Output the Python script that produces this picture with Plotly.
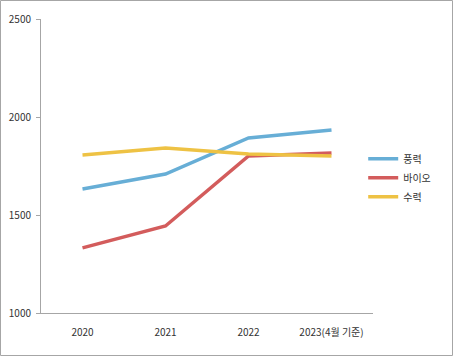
import plotly.graph_objects as go

categories = ["2020", "2021", "2022", "2023(4월 기준)"]
wind = [1633, 1709, 1893, 1934]
bio = [1332, 1444, 1801, 1816]
hydro = [1806, 1842, 1811, 1801]
y_ticks = [1000, 1500, 2000, 2500]

series = [("풍력", wind, "#67AED6"), ("바이오", bio, "#D35C5C"), ("수력", hydro, "#EEC244")]

fig = go.Figure()
for name, vals, color in series:
    fig.add_trace(go.Scatter(x=categories, y=vals, name=name, mode="lines",
                             line=dict(color=color, width=3.5)))

W, H = 454, 357
ml, mr, mt, mb = 41, 81, 19, 44
pw, ph = W - ml - mr, H - mt - mb

fig.update_layout(
    width=W, height=H, autosize=False,
    margin=dict(l=ml, r=mr, t=mt, b=mb, autoexpand=False),
    paper_bgcolor="white", plot_bgcolor="white",
    font=dict(family="Noto Sans CJK KR, Noto Sans, sans-serif", size=10, color="#333333"),
    showlegend=True,
    legend=dict(xref="container", x=0.80, y=0.46, yanchor="middle", xanchor="left",
                font=dict(size=10, color="#333333"), itemwidth=30,
                tracegroupgap=0, bgcolor="rgba(0,0,0,0)"),
    xaxis=dict(type="category", range=[-0.5, 3.5], showline=True, linecolor="#A6A6A6",
               linewidth=1, showgrid=False, ticks="", ticklabelstandoff=10, zeroline=False),
    yaxis=dict(range=[1000, 2500], tickvals=y_ticks, showline=True, linecolor="#A6A6A6",
               linewidth=1, showgrid=False, ticks="outside", ticklen=4, tickcolor="#A6A6A6",
               ticklabelstandoff=3, zeroline=False),
)

fig.add_shape(type="rect", xref="paper", yref="paper",
              x0=-(ml - 0.5) / pw, x1=1 + (mr - 1.5) / pw,
              y0=-(mb - 1.5) / ph, y1=1 + (mt - 0.5) / ph,
              line=dict(color="#A6A6A6", width=1), layer="below")

fig.write_html("out.html", config={"displayModeBar": False},
               post_script="document.body.style.margin='0';document.body.style.overflow='hidden';")
